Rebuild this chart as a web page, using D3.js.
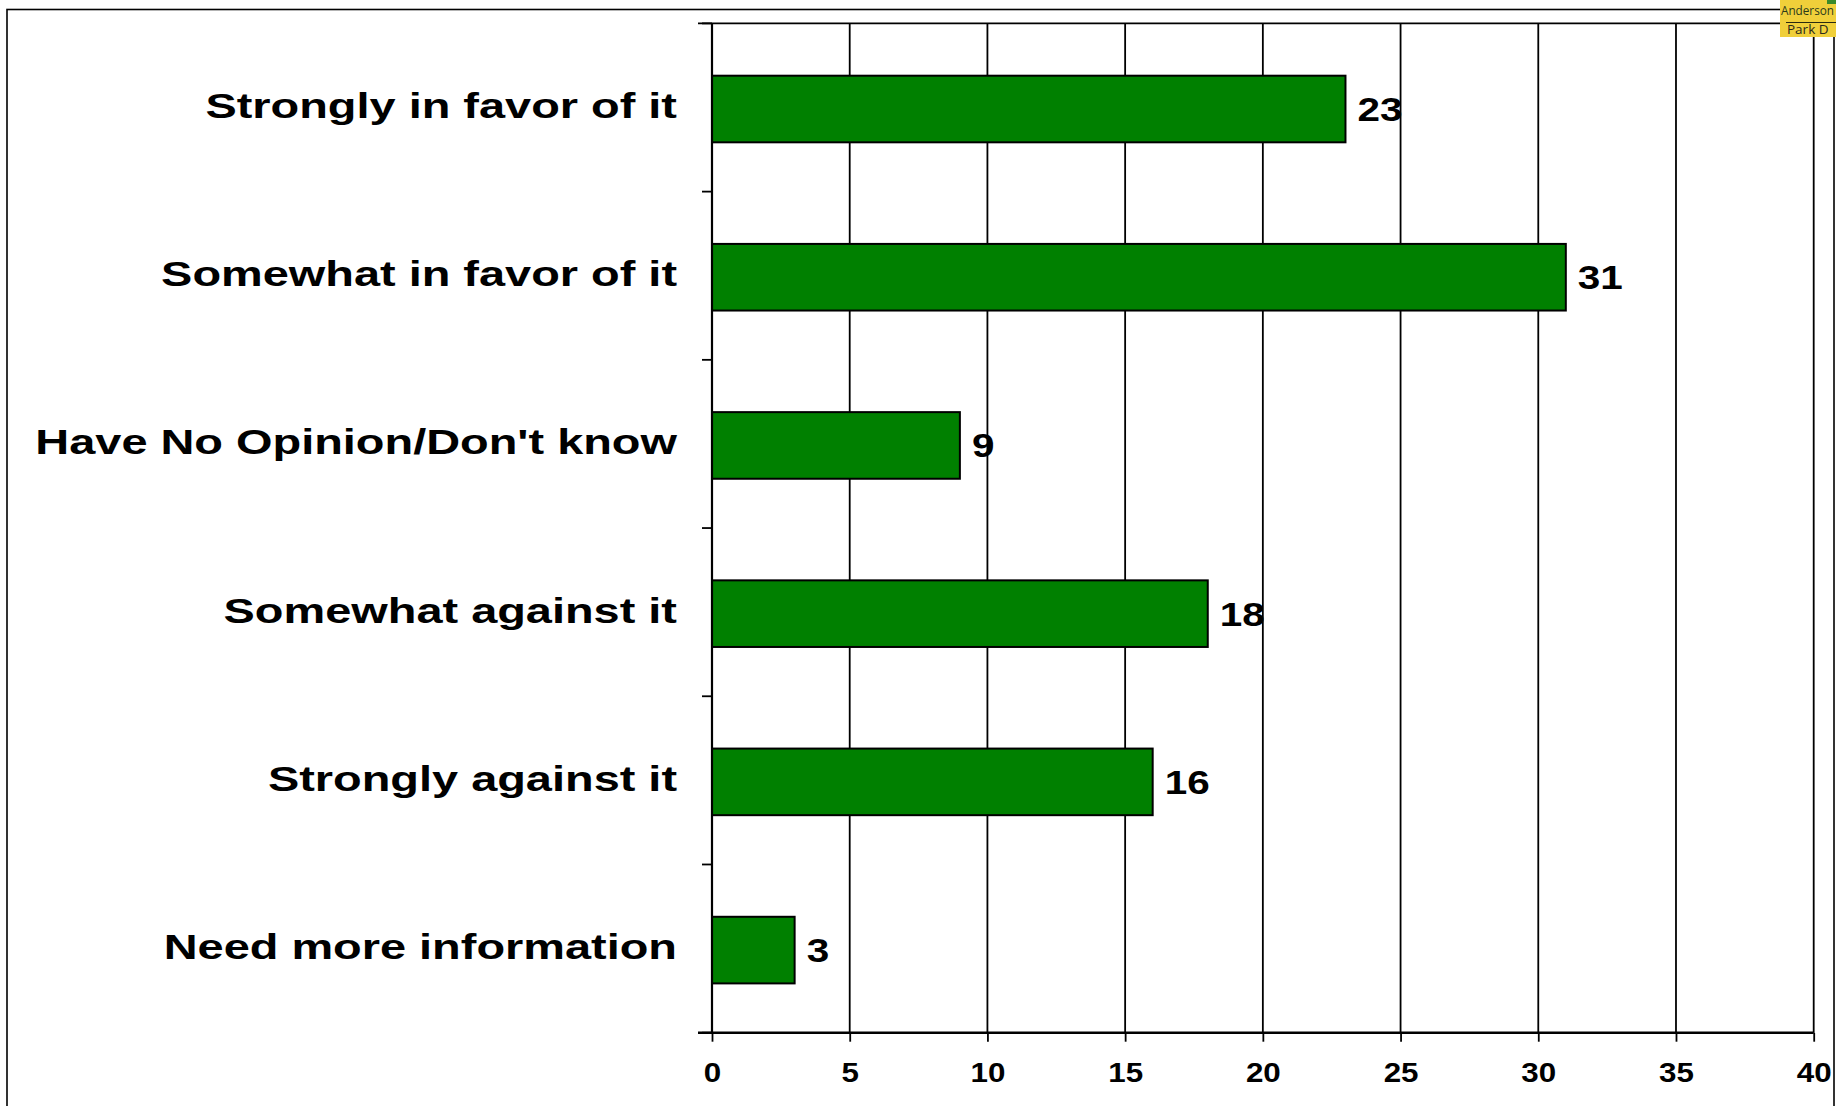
<!DOCTYPE html>
<html>
<head>
<meta charset="utf-8">
<script src="https://cdn.jsdelivr.net/npm/d3@7"></script>
<style>
  html, body { margin: 0; padding: 0; background: #fff; }
  svg { display: block; }
  text { font-family: "Liberation Sans", Arial, sans-serif; font-weight: bold; fill: #000; }
  text.logo { font-family: "Open Sans", sans-serif; font-weight: normal; }
</style>
</head>
<body>
<svg id="chart" width="1836" height="1106"></svg>
<script>
const categories = [
  "Strongly in favor of it",
  "Somewhat in favor of it",
  "Have No Opinion/Don't know",
  "Somewhat against it",
  "Strongly against it",
  "Need more information"
];
const values = [23, 31, 9, 18, 16, 3];
const xTickValues = [0, 5, 10, 15, 20, 25, 30, 35, 40];

const W = 1836, H = 1106;
const plot = { left: 712, right: 1813.7, top: 23.4, bottom: 1032.7 };

const svg = d3.select("#chart");

// outer frame
svg.append("rect")
  .attr("x", 7).attr("y", 9.5)
  .attr("width", 1827).attr("height", H + 20)
  .attr("fill", "none").attr("stroke", "#000").attr("stroke-width", 1.6);

const x = d3.scaleLinear().domain([0, 40]).range([plot.left, plot.right]);
const y = d3.scaleBand().domain(categories)
  .range([plot.top, plot.bottom])
  .paddingInner(0.604).paddingOuter(0.302);

// vertical gridlines
svg.append("g").selectAll("line")
  .data(xTickValues.filter(v => v > 0))
  .join("line")
  .attr("x1", d => x(d)).attr("x2", d => x(d))
  .attr("y1", plot.top).attr("y2", plot.bottom)
  .attr("stroke", "#000").attr("stroke-width", 1.8);

// top border line of plot
svg.append("line")
  .attr("x1", plot.left - 14).attr("x2", plot.right)
  .attr("y1", plot.top).attr("y2", plot.top)
  .attr("stroke", "#000").attr("stroke-width", 1.8);

// bars
const data = categories.map((c, i) => ({ cat: c, val: values[i] }));
svg.append("g").selectAll("rect")
  .data(data)
  .join("rect")
  .attr("x", x(0))
  .attr("y", d => y(d.cat) + 1.5)
  .attr("width", d => x(d.val) - x(0))
  .attr("height", y.bandwidth())
  .attr("fill", "#008000")
  .attr("stroke", "#000").attr("stroke-width", 2);

// value labels
svg.append("g").selectAll("text")
  .data(data)
  .join("text")
  .attr("transform", d => `translate(${x(d.val) + 12},${y(d.cat) + 1.5 + y.bandwidth() / 2 + 12}) scale(1.19,1)`)
  .attr("font-size", 34)
  .attr("text-anchor", "start")
  .text(d => d.val);

// category boundary ticks on left axis
const step = y.step();
const boundaries = d3.range(categories.length + 1).map(i => plot.top + i * step);
svg.append("g").selectAll("line")
  .data(boundaries)
  .join("line")
  .attr("x1", plot.left - 10).attr("x2", plot.left)
  .attr("y1", d => d).attr("y2", d => d)
  .attr("stroke", "#000").attr("stroke-width", 1.8);

// left axis line
svg.append("line")
  .attr("x1", plot.left).attr("x2", plot.left)
  .attr("y1", plot.top).attr("y2", plot.bottom)
  .attr("stroke", "#000").attr("stroke-width", 2.2);

// category labels
svg.append("g").selectAll("text")
  .data(categories)
  .join("text")
  .attr("transform", d => `translate(677,${y(d) + 1.5 + y.bandwidth() / 2 + 9}) scale(1.34,1)`)
  .attr("font-size", 35)
  .attr("text-anchor", "end")
  .text(d => d);

// bottom axis
const xAxis = d3.axisBottom(x)
  .tickValues(xTickValues)
  .tickSize(9)
  .tickSizeOuter(0)
  .tickFormat(d3.format("d"));

const gx = svg.append("g")
  .attr("transform", `translate(0,${plot.bottom})`)
  .call(xAxis);
gx.select(".domain").remove();
gx.selectAll(".tick line").attr("stroke", "#000").attr("stroke-width", 1.8);
gx.selectAll(".tick text")
  .attr("y", 49).attr("dy", 0)
  .attr("font-size", 28.5)
  .attr("fill", "#000")
  .attr("transform", "scale(1.1,1)");
svg.append("line")
  .attr("x1", plot.left - 14).attr("x2", plot.right)
  .attr("y1", plot.bottom).attr("y2", plot.bottom)
  .attr("stroke", "#000").attr("stroke-width", 2.6);

// logo in the corner
const logo = svg.append("g");
logo.append("rect")
  .attr("x", 1780).attr("y", 0).attr("width", 56).attr("height", 37)
  .attr("fill", "#f0cf3a");
logo.append("rect")
  .attr("x", 1827).attr("y", 0).attr("width", 9).attr("height", 4)
  .attr("fill", "#3a8a2a");
logo.append("line")
  .attr("x1", 1786).attr("x2", 1836).attr("y1", 22.5).attr("y2", 22.5)
  .attr("stroke", "#2a2a10").attr("stroke-width", 1);
logo.append("text")
  .attr("class", "logo")
  .attr("x", 1781).attr("y", 15)
  .attr("font-size", 12)
  .attr("textLength", 53).attr("lengthAdjust", "spacingAndGlyphs")
  .style("fill", "#2b3a1a")
  .text("Anderson");
logo.append("text")
  .attr("class", "logo")
  .attr("x", 1787).attr("y", 34)
  .attr("font-size", 13.5)
  .style("fill", "#2b2a1a")
  .text("Park D");
</script>
</body>
</html>
